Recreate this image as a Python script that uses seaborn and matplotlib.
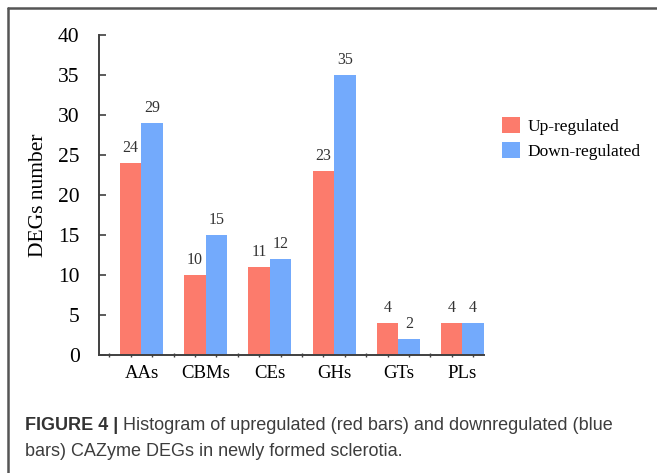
import matplotlib
matplotlib.use("Agg")
import matplotlib.pyplot as plt
import seaborn as sns
import pandas as pd
from matplotlib.lines import Line2D
from matplotlib.ticker import MultipleLocator, FixedLocator

categories = ["AAs", "CBMs", "CEs", "GHs", "GTs", "PLs"]
up_regulated = [24, 10, 11, 23, 4, 4]
down_regulated = [29, 15, 12, 35, 2, 4]
series_names = ["Up-regulated", "Down-regulated"]
colors = ["#FC7B6C", "#73AAFC"]

df = pd.DataFrame({
    "category": categories * 2,
    "count": up_regulated + down_regulated,
    "series": [series_names[0]] * len(categories) + [series_names[1]] * len(categories),
})

sns.set_theme(style="white")
plt.rcParams["font.family"] = ["Liberation Serif", "DejaVu Serif"]

fig = plt.figure(figsize=(6.57, 4.73), dpi=100)
ax = fig.add_axes([99 / 657, 1 - 355 / 473, (484 - 99) / 657, (355 - 35) / 473])

sns.barplot(data=df, x="category", y="count", hue="series", palette=colors,
            saturation=1, width=0.67, dodge=True, ax=ax, legend=True,
            linewidth=0, edgecolor="none")

for container in ax.containers:
    ax.bar_label(container, fmt="%d", padding=5, fontsize=11.5, color="#333333")

ax.set_ylim(0, 40)
ax.set_xlim(-0.662, 5.335)
ax.yaxis.set_major_locator(MultipleLocator(5))
ax.set_ylabel("DEGs number", fontsize=15.5, color="black", labelpad=7)
ax.set_xlabel("")

spine_color = "#404040"
for side in ["top", "right"]:
    ax.spines[side].set_visible(False)
for side in ["left", "bottom"]:
    ax.spines[side].set_color(spine_color)
    ax.spines[side].set_linewidth(1.4)

ax.tick_params(axis="y", direction="in", length=5, width=1.2, color=spine_color,
               labelsize=15.5, labelcolor="black", left=True, pad=14)
ax.tick_params(axis="x", which="major", length=0, labelsize=13.5, labelcolor="black", pad=7)
ax.xaxis.set_minor_locator(FixedLocator([-0.5 + k / 3 for k in range(18)]))
ax.tick_params(axis="x", which="minor", direction="inout", length=3, width=1,
               color=spine_color, bottom=True)

leg = ax.legend(loc="upper left", bbox_to_anchor=(1.03, 0.765), frameon=False,
                fontsize=12.5, handlelength=1.0, handleheight=1.0,
                handletextpad=0.45, labelspacing=0.42, borderaxespad=0)
for text in leg.get_texts():
    text.set_color("black")

# figure frame along top and left edges
frame_kw = dict(transform=fig.transFigure, color="#555555", linewidth=1.8)
fig.add_artist(Line2D([8 / 657, 1.0], [1 - 8 / 473, 1 - 8 / 473], **frame_kw))
fig.add_artist(Line2D([8 / 657, 8 / 657], [0.0, 1 - 8 / 473], **frame_kw))

# caption
sans = ["Liberation Sans", "DejaVu Sans"]
y1 = 1 - 425 / 473
y2 = 1 - 451 / 473
t = fig.text(25 / 657, y1, "FIGURE 4 |", fontsize=13, fontweight="bold",
             family=sans, color="#333333", va="center")
fig.canvas.draw()
bb = t.get_window_extent()
fig.text((bb.x1 + 5) / fig.bbox.width, y1,
         "Histogram of upregulated (red bars) and downregulated (blue",
         fontsize=13, family=sans, color="#3d3d3d", va="center")
fig.text(25 / 657, y2, "bars) CAZyme DEGs in newly formed sclerotia.",
         fontsize=13, family=sans, color="#3d3d3d", va="center")

fig.savefig("out.png", dpi=100)
